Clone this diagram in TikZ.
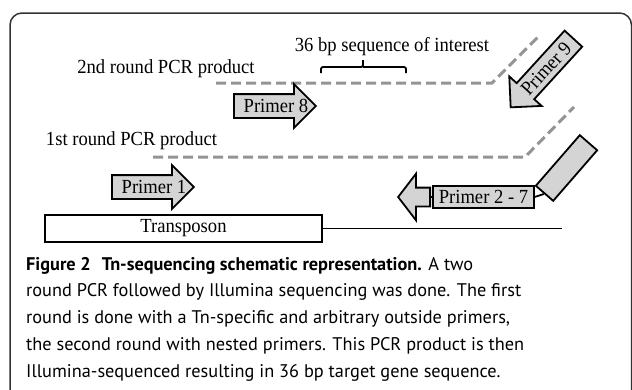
\documentclass[tikz,border=0pt]{standalone}
\usepackage{fontspec}
\setmainfont{Liberation Serif}[FakeStretch=0.93]
\newfontfamily\capfont{PT Sans}
\usetikzlibrary{shapes.arrows}

\begin{document}
\begin{tikzpicture}[x=1pt,y=1pt,
    lbl/.style={font=\fontsize{20}{24}\selectfont, inner sep=0pt},
    gbox/.style={draw, fill=black!17, line width=1.8pt},
    primer/.style={gbox, single arrow, single arrow head extend=10pt,
      single arrow tip angle=90, text height=13pt, text depth=5pt,
      inner ysep=2pt, inner xsep=0pt},
    product/.style={draw=black!42, line width=3pt, dash pattern=on 10pt off 5pt}]
  \useasboundingbox (0,0) rectangle (632,-389);
  \clip (0,0) rectangle (632,-389);
  \draw[black!80, line width=1.5pt, rounded corners=12pt] (10,-13) rectangle (631.5,-420);

  % PCR products
  \draw[product] (216,-83) -- (492,-83) -- (540,-35);
  \draw[product] (153,-157) -- (525,-157) -- (574,-107);
  \node[lbl, anchor=base] (second) at (166,-73.3) {2nd round PCR product};
  \node[lbl, anchor=base] (first) at (131.5,-145.7) {1st round PCR product};
  \node[lbl, anchor=base] (interest) at (392,-51) {36 bp sequence of interest};
  \coordinate (seqL) at (321,-73);
  \coordinate (seqR) at (406,-73);
  \draw[line width=1.8pt, rounded corners=2pt] % bracket under the 36 bp
    (seqL) -- ++(0,6) -- (363,-67) -- (363,-60)
    (363,-67) -- (406,-67) -- (seqR);

  % primers
  \node[primer, minimum height=82pt, anchor=tail,
    label={[lbl, xshift=7pt]center:Primer 8}] (p8) at (233,-106) {};
  \node[primer, minimum height=82pt, anchor=tail,
    label={[lbl, xshift=7pt]center:Primer 1}] (p1) at (111,-187) {};
  \node[primer, shape border rotate=180, rotate=47.6, minimum height=93pt, anchor=tail,
    label={[lbl, rotate=47.6]center:Primer 9}] (p9) at (574,-38) {};

  \node[primer, shape border rotate=180, minimum height=32pt, single arrow head extend=14pt,
    single arrow tip angle=105, text height=12pt, text depth=5pt, inner ysep=0pt,
    anchor=tip] (p27head) at (397,-197) {};
  \node[gbox, lbl, inner xsep=5.5pt, minimum height=22pt] (p27) at (483.5,-197) {Primer 2 - 7};
  \node[gbox, rotate=49, minimum width=67pt, minimum height=23pt] (adaptor) at (566.5,-168) {};
  \draw[line width=1.8pt] (p27head.tail) -- (p27.west);
  \draw[line width=1.8pt] (p27.east) -- (adaptor.west);

  % transposon and genome
  \node[draw, line width=1.8pt, lbl, minimum width=277pt, minimum height=27pt] (tn) at (183.5,-228.5) {Transposon};
  \coordinate (gene) at (562,-228.5);
  \draw[line width=1.8pt] (tn.east) -- (gene);

  % caption
  \node[font=\capfont\fontsize{18.3}{26.7}\selectfont, align=left, anchor=north west, inner sep=0pt] (caption) at (26,-257)
    {\textbf{Figure 2\hspace{0.6em}Tn-sequencing schematic representation.} A two\\
     round PCR followed by Illumina sequencing was done. The first\\
     round is done with a Tn-specific and arbitrary outside primers,\\
     the second round with nested primers. This PCR product is then\\
     Illumina-sequenced resulting in 36 bp target gene sequence.};
\end{tikzpicture}
\end{document}
